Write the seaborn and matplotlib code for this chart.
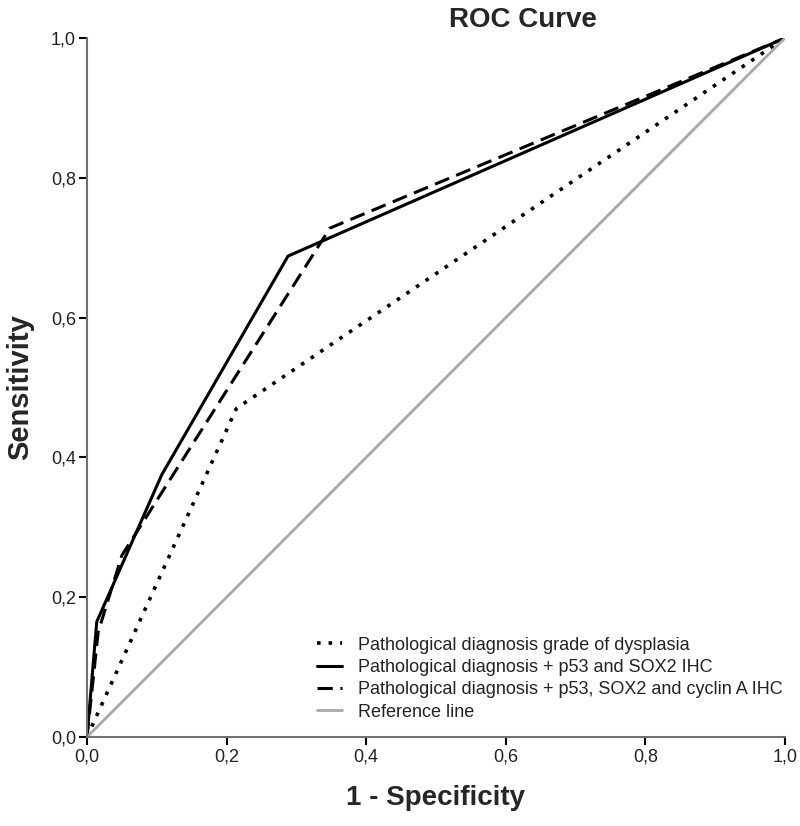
import matplotlib
matplotlib.use("Agg")
import matplotlib.pyplot as plt
import matplotlib.ticker as mticker
import pandas as pd
import seaborn as sns

# ── data ─────────────────────────────────────────────────────────────────────
grade_fpr = [0.0, 0.214, 1.0]
grade_tpr = [0.0, 0.470, 1.0]

p53_sox2_fpr = [0.0, 0.014, 0.107, 0.288, 1.0]
p53_sox2_tpr = [0.0, 0.165, 0.375, 0.688, 1.0]

cyclin_fpr = [0.0, 0.016, 0.05, 0.348, 1.0]
cyclin_tpr = [0.0, 0.150, 0.26, 0.728, 1.0]

ref_fpr = [0.0, 1.0]
ref_tpr = [0.0, 1.0]

labels = [
    "Pathological diagnosis grade of dysplasia",
    "Pathological diagnosis + p53 and SOX2 IHC",
    "Pathological diagnosis + p53, SOX2 and cyclin A IHC",
    "Reference line",
]
ticks = [0.0, 0.2, 0.4, 0.6, 0.8, 1.0]

sns.set_style("white")
plt.rcParams["font.family"] = ["Liberation Sans", "DejaVu Sans"]

fig = plt.figure(figsize=(8, 8.26), dpi=100)
ax = fig.add_axes([0.10875, 0.1077, 0.8725, 0.8463])

series = [
    (grade_fpr, grade_tpr, dict(color="black", lw=2.6, linestyle=(0, (1, 2.2)))),
    (p53_sox2_fpr, p53_sox2_tpr, dict(color="black", lw=2.2, linestyle="-")),
    (cyclin_fpr, cyclin_tpr, dict(color="black", lw=2.2, linestyle=(0, (5, 2.5)))),
    (ref_fpr, ref_tpr, dict(color="#a8a8a8", lw=2.0, linestyle="-")),
]
for (fx, ty, style), lab in zip(series, labels):
    df = pd.DataFrame({"fpr": fx, "tpr": ty})
    sns.lineplot(data=df, x="fpr", y="tpr", ax=ax, label=lab, sort=False,
                 estimator=None, **style)

ax.set_xlim(0, 1)
ax.set_ylim(0, 1)
ax.set_xticks(ticks)
ax.set_yticks(ticks)
fmt = mticker.FuncFormatter(lambda v, _: f"{v:.1f}".replace(".", ","))
ax.xaxis.set_major_formatter(fmt)
ax.yaxis.set_major_formatter(fmt)
ax.tick_params(axis="both", direction="out", length=6, width=1.5,
               color="black", labelsize=13, pad=2, bottom=True, left=True,
               labelcolor="#222222")

for side in ["top", "right"]:
    ax.spines[side].set_visible(False)
for side in ["left", "bottom"]:
    ax.spines[side].set_color("#707070")
    ax.spines[side].set_linewidth(1.5)

ax.set_xlabel("1 - Specificity", fontsize=20, fontweight="bold", labelpad=14)
ax.set_ylabel("Sensitivity", fontsize=21, fontweight="bold", labelpad=12)
fig.text(0.654, 0.976, "ROC Curve", ha="center", va="center",
         fontsize=20, fontweight="bold")

leg = ax.legend(loc="lower right", bbox_to_anchor=(1.02, 0.0), frameon=False,
                fontsize=13, handlelength=1.4, handletextpad=0.9,
                labelspacing=0.3)
for t in leg.get_texts():
    t.set_color("#222222")

fig.savefig("out.png", dpi=100)
